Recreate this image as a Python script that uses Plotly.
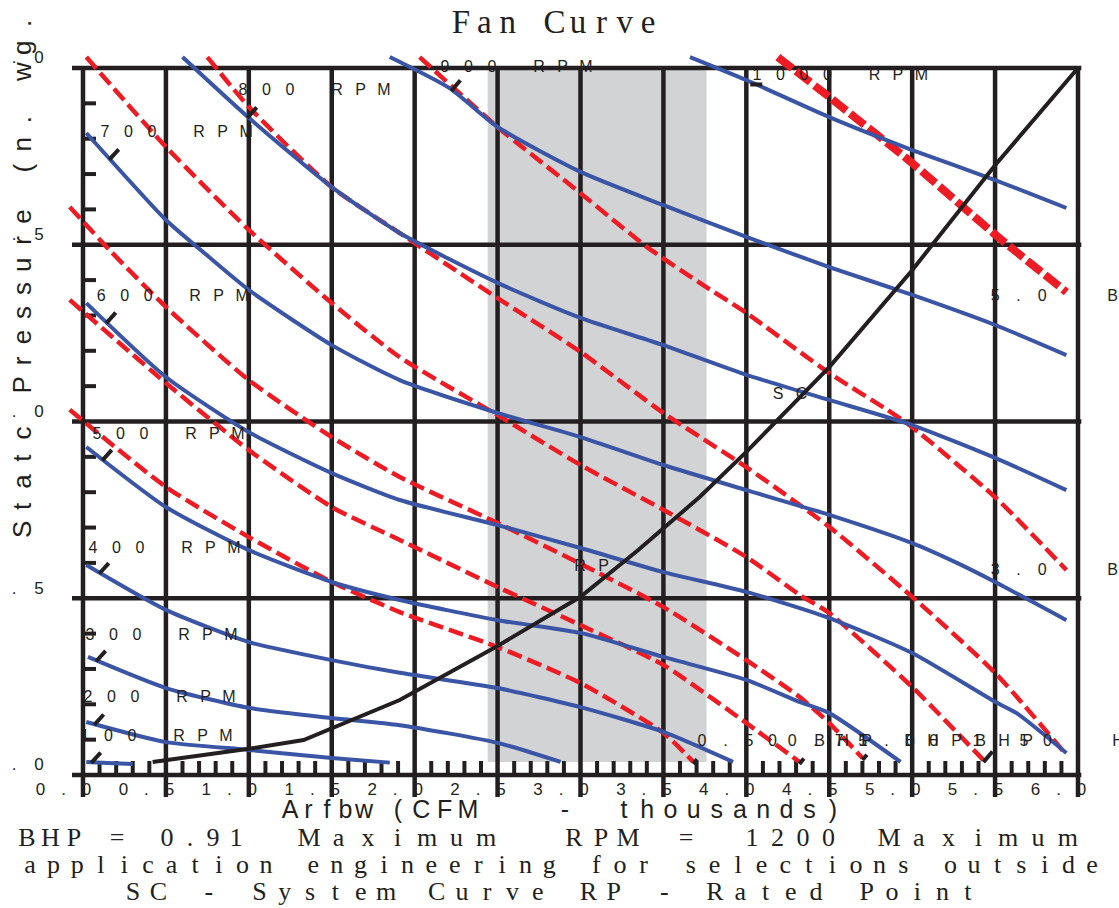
import math
import plotly.graph_objects as go

# ---------------------------------------------------------------- colours
INK = "#231f20"
BLUE = "#3a55a5"
RED = "#ed1c24"
BAND = "#d1d3d4"

# ---------------------------------------------------------------- axes / ticks
X_TICKS = [0.0, 0.5, 1.0, 1.5, 2.0, 2.5, 3.0, 3.5, 4.0, 4.5, 5.0, 5.5, 6.0]
X_TICK_LABELS = ["0.0", "0.5", "1.0", "1.5", "2.0", "2.5", "3.0",
                 "3.5", "4.0", "4.5", "5.0", "5.5", "6.0"]
Y_TICKS = [0.0, 0.5, 1.0, 1.5, 2.0]
Y_TICK_LABELS = ["0.0", "0.5", "1.0", "1.5", "2.0"]

# shaded selection band (CFM thousands, in. wg)
BAND_X = [2.44, 3.76]
BAND_Y = [0.037, 2.0]

# ---------------------------------------------------------------- fan curves (RPM)
RPM100_X = [0.02, 0.15, 0.3]
RPM100_Y = [0.037, 0.034, 0.031]
RPM200_X = [0.02, 0.5, 1.0, 1.5, 1.85]
RPM200_Y = [0.150, 0.093, 0.071, 0.048, 0.035]
RPM300_X = [0.03, 0.5, 1.0, 1.5, 1.91, 2.5, 2.88]
RPM300_Y = [0.334, 0.246, 0.190, 0.161, 0.141, 0.091, 0.037]
RPM400_X = [0.02, 0.5, 1.0, 1.5, 1.91, 2.5, 3.0, 3.5, 3.92]
RPM400_Y = [0.594, 0.467, 0.376, 0.325, 0.289, 0.246, 0.192, 0.122, 0.037]
RPM500_X = [0.02, 0.5, 1.0, 1.5, 1.91, 2.5, 3.0, 3.5, 4.0, 4.32, 4.5, 4.93]
RPM500_Y = [0.928, 0.758, 0.636, 0.546, 0.495, 0.438, 0.402, 0.334, 0.269, 0.207, 0.175, 0.037]
RPM600_X = [0.02, 0.5, 1.0, 1.5, 1.91, 2.5, 3.0, 3.5, 4.0, 4.5, 5.0, 5.5, 5.63, 5.93]
RPM600_Y = [1.335, 1.126, 0.970, 0.854, 0.778, 0.707, 0.642, 0.574, 0.518, 0.444, 0.345, 0.207, 0.175, 0.062]
RPM700_X = [0.02, 0.5, 0.71, 1.0, 1.5, 1.91, 2.5, 3.0, 3.5, 4.0, 4.5, 5.0, 5.27, 5.5, 5.93]
RPM700_Y = [1.816, 1.570, 1.485, 1.372, 1.216, 1.117, 1.024, 0.956, 0.877, 0.806, 0.736, 0.656, 0.600, 0.546, 0.438]
RPM800_X = [0.6, 1.0, 1.5, 1.91, 2.5, 3.0, 3.5, 4.0, 4.5, 5.0, 5.5, 5.93]
RPM800_Y = [2.031, 1.859, 1.663, 1.533, 1.392, 1.293, 1.216, 1.132, 1.061, 0.990, 0.897, 0.806]
RPM900_X = [1.85, 2.21, 2.5, 3.0, 3.5, 4.0, 4.5, 5.0, 5.5, 5.93]
RPM900_Y = [2.031, 1.943, 1.833, 1.706, 1.612, 1.522, 1.437, 1.358, 1.273, 1.188]
RPM1000_X = [3.66, 4.0, 4.5, 5.0, 5.5, 5.93]
RPM1000_Y = [2.031, 1.966, 1.861, 1.768, 1.683, 1.604]

RPM_NAMES = ["100", "200", "300", "400", "500", "600", "700", "800", "900", "1000"]
# where the small black marker crosses each RPM curve, and its direction (deg)
RPM_TICK_X = [0.054, 0.072, 0.084, 0.103, 0.121, 0.145, 0.163, 0.995, 2.225, 4.06]
RPM_TICK_ANGLE = [48, 48, 48, 48, 48, 48, 48, 48, 50, 0]
# first character of each RPM label
RPM_LABEL_X = [0.012, 0.030, 0.042, 0.060, 0.084, 0.109, 0.133, 0.965, 2.183, 4.064]
RPM_LABEL_Y = [0.107, 0.218, 0.393, 0.639, 0.962, 1.352, 1.816, 1.935, 2.000, 1.977]

# ---------------------------------------------------------------- brake horsepower lines
BHP050_X = [-0.08, 0.5, 1.0, 1.5, 1.91, 2.5, 3.0, 3.5, 3.68]
BHP050_Y = [1.033, 0.815, 0.673, 0.546, 0.461, 0.362, 0.260, 0.119, 0.037]
BHP075_X = [-0.08, 0.5, 1.0, 1.5, 1.91, 2.5, 3.0, 3.5, 4.0, 4.32]
BHP075_Y = [1.344, 1.109, 0.919, 0.758, 0.665, 0.532, 0.424, 0.311, 0.147, 0.037]
BHP100_X = [-0.08, 0.16, 0.5, 1.0, 1.5, 1.91, 2.5, 3.04, 3.5, 4.0, 4.32, 4.5, 4.7]
BHP100_Y = [1.607, 1.485, 1.324, 1.117, 0.956, 0.843, 0.713, 0.588, 0.475, 0.325, 0.221, 0.147, 0.048]
BHP150_X = [0.02, 0.5, 1.0, 1.5, 1.91, 2.5, 3.0, 3.5, 4.0, 4.32, 4.5, 5.0, 5.43]
BHP150_Y = [2.031, 1.777, 1.542, 1.335, 1.182, 1.018, 0.877, 0.750, 0.617, 0.510, 0.458, 0.249, 0.042]
BHP200_X = [0.75, 1.0, 1.5, 1.91, 2.5, 3.0, 3.5, 4.0, 4.5, 5.0, 5.5, 5.93]
BHP200_Y = [2.031, 1.890, 1.663, 1.533, 1.349, 1.197, 1.024, 0.871, 0.702, 0.504, 0.289, 0.057]
BHP300_X = [2.03, 2.5, 3.0, 3.4, 3.72, 4.0, 4.5, 4.85, 5.0, 5.5, 5.93]
BHP300_Y = [2.031, 1.833, 1.646, 1.494, 1.392, 1.307, 1.137, 1.033, 0.984, 0.786, 0.580]
BHP500_X = [4.19, 4.5, 5.0, 5.49, 5.93]
BHP500_Y = [2.031, 1.918, 1.731, 1.533, 1.366]

BHP_NAMES = ["0.50", "0.75", "1.00", "1.50", "2.00", "3.00", "5.00"]
BHP_LABEL_TEXT = ["0.50 BHP", "0.75 BHP", "1.00 BHP", "1.50 BHP", "5.00 BHP", "3.00 BHP"]
BHP_LABEL_X = [3.733, 4.276, 4.704, 5.391, 5.500, 5.500]
BHP_LABEL_Y = [0.093, 0.093, 0.093, 0.093, 1.352, 0.577]

# ---------------------------------------------------------------- system curve
SC_X = [0.42, 1.0, 1.33, 1.5, 1.91, 2.5, 3.0, 3.35, 3.72, 4.0, 4.19, 4.5, 5.0, 5.5, 6.0]
SC_Y = [0.037, 0.074, 0.099, 0.133, 0.212, 0.365, 0.504, 0.637, 0.787, 0.914, 1.004, 1.154, 1.428, 1.725, 2.0]
POINT_LABELS = ["SC", "RP"]
POINT_LABEL_X = [4.191, 2.997]
POINT_LABEL_Y = [1.075, 0.588]

TITLE = "Fan Curve"
X_TITLE_WORDS = ["Arfbw", "(CFM", "-", "thousands)"]
Y_TITLE = "Statc Pressure (n. wg."
FOOT_WORDS = ["BHP", "=", "0.91", "Maximum", "RPM", "=", "1200", "Maximum"]
FOOT_LINE_2 = "application engineering for selections outside"
FOOT_LINE_3 = "SC - System Curve RP - Rated Point"

# ---------------------------------------------------------------- page geometry
W, H = 1119, 908
FRAME_L, FRAME_R, FRAME_B, FRAME_T = 83, 1078, 775, 68   # pixel edges of the 6 x 2 frame
SX = (FRAME_R - FRAME_L) / 6.0
SY = (FRAME_B - FRAME_T) / 2.0
X_RANGE = [-FRAME_L / SX, (W - FRAME_L) / SX]
Y_RANGE = [-(H - FRAME_B) / SY, FRAME_B / SY]


def dx(px):
    return (px - FRAME_L) / SX


def dy(py):
    return (FRAME_B - py) / SY


SANS = "Liberation Sans, Arial, sans-serif"
NARROW = "Liberation Sans Narrow, Liberation Sans, sans-serif"
SERIF = "Liberation Serif, Times New Roman, serif"

fig = go.Figure()
shapes = []

# shaded band
shapes.append(dict(type="rect", xref="x", yref="y", x0=BAND_X[0], x1=BAND_X[1],
                   y0=BAND_Y[0], y1=BAND_Y[1], fillcolor=BAND, line_width=0, layer="below"))

GRID_W = 4.5
for v in X_TICKS:
    shapes.append(dict(type="line", xref="x", yref="y", x0=v, x1=v, y0=dy(797), y1=Y_TICKS[-1] + 0.006,
                       line=dict(color=INK, width=GRID_W), layer="below"))
for v in Y_TICKS:
    shapes.append(dict(type="line", xref="x", yref="y", x0=dx(72), x1=X_TICKS[-1] + 0.02, y0=v, y1=v,
                       line=dict(color=INK, width=GRID_W), layer="below"))
# minor ticks every 0.1
for i in range(1, 60):
    if i % 5:
        v = i / 10
        shapes.append(dict(type="line", xref="x", yref="y", x0=v, x1=v, y0=0, y1=dy(761),
                           line=dict(color=INK, width=4), layer="below"))
for i in range(1, 20):
    if i % 5:
        v = i / 10
        shapes.append(dict(type="line", xref="x", yref="y", x0=0, x1=dx(96), y0=v, y1=v,
                           line=dict(color=INK, width=4), layer="below"))

rpm_curves = [(RPM100_X, RPM100_Y), (RPM200_X, RPM200_Y), (RPM300_X, RPM300_Y),
              (RPM400_X, RPM400_Y), (RPM500_X, RPM500_Y), (RPM600_X, RPM600_Y),
              (RPM700_X, RPM700_Y), (RPM800_X, RPM800_Y), (RPM900_X, RPM900_Y),
              (RPM1000_X, RPM1000_Y)]
bhp_curves = [(BHP050_X, BHP050_Y), (BHP075_X, BHP075_Y), (BHP100_X, BHP100_Y),
              (BHP150_X, BHP150_Y), (BHP200_X, BHP200_Y), (BHP300_X, BHP300_Y),
              (BHP500_X, BHP500_Y)]

for name, (xs, ys) in zip(BHP_NAMES, bhp_curves):
    heavy = name == "5.00"
    fig.add_trace(go.Scatter(x=xs, y=ys, mode="lines", name=name + " BHP",
                             line=dict(color=RED, width=8 if heavy else 4.5,
                                       dash="18px,5px" if heavy else "15px,6px",
                                       shape="spline", smoothing=0.6),
                             hoverinfo="skip"))

for name, (xs, ys) in zip(RPM_NAMES, rpm_curves):
    fig.add_trace(go.Scatter(x=xs, y=ys, mode="lines", name=name + " RPM",
                             line=dict(color=BLUE, width=4, shape="spline", smoothing=0.6),
                             hoverinfo="skip"))

fig.add_trace(go.Scatter(x=SC_X, y=SC_Y, mode="lines", name="System Curve",
                         line=dict(color=INK, width=4), hoverinfo="skip"))


def interp(xs, ys, x):
    for i in range(len(xs) - 1):
        if xs[i] <= x <= xs[i + 1]:
            t = (x - xs[i]) / (xs[i + 1] - xs[i])
            return ys[i] + t * (ys[i + 1] - ys[i])
    return ys[-1]


# short black markers on the curves
mx, my = [], []
for (xs, ys), xt, ang in zip(rpm_curves, RPM_TICK_X, RPM_TICK_ANGLE):
    yt = interp(xs, ys, xt)
    a = math.radians(ang)
    if ang == 0:
        mx += [xt - 6 / SX, xt + 6 / SX, None]
        my += [yt, yt, None]
    else:
        mx += [xt - 1 * math.cos(a) / SX, xt + 13 * math.cos(a) / SX, None]
        my += [yt - 1 * math.sin(a) / SY, yt + 13 * math.sin(a) / SY, None]
for (xs, ys), length in zip(bhp_curves[:4], [6, 7, 7, 14]):
    xt, yt = xs[-1], ys[-1]
    a = math.radians(50)
    mx += [xt, xt + length * math.cos(a) / SX, None]
    my += [yt - 2 / SY, yt + (length * math.sin(a) - 2) / SY, None]
fig.add_trace(go.Scatter(x=mx, y=my, mode="lines", line=dict(color=INK, width=4),
                         hoverinfo="skip", name="markers"))


# ---------------------------------------------------------------- letter-spaced text
def spaced(text, x0, y0, pitch, skip=None):
    """Characters of text on a fixed pitch (pixels), first one centred at x0 (data units)."""
    xs, ys, ts = [], [], []
    for i, ch in enumerate(text):
        if ch == " ":
            continue
        x = x0 + i * pitch / SX
        if skip and skip(x):
            continue
        xs.append(x)
        ys.append(y0)
        ts.append(ch)
    return xs, ys, ts


def text_trace(parts, size, family):
    xs, ys, ts = [], [], []
    for p in parts:
        xs += p[0]
        ys += p[1]
        ts += p[2]
    return go.Scatter(x=xs, y=ys, text=ts, mode="text", cliponaxis=False, hoverinfo="skip",
                      textposition="middle center",
                      textfont=dict(family=family, size=size, color=INK))


PITCH = 23.5
label_parts = []
for name, lx, ly in zip(RPM_NAMES, RPM_LABEL_X, RPM_LABEL_Y):
    label_parts.append(spaced(name + " RPM", lx, ly, PITCH))
clip = lambda x: dx(1058) < x < dx(1105)
for txt, lx, ly in zip(BHP_LABEL_TEXT, BHP_LABEL_X, BHP_LABEL_Y):
    label_parts.append(spaced(txt, lx, ly, PITCH, skip=clip))
for txt, lx, ly in zip(POINT_LABELS, POINT_LABEL_X, POINT_LABEL_Y):
    label_parts.append(spaced(" ".join(txt), lx, ly, PITCH / 2))
fig.add_trace(text_trace(label_parts, 16, SANS))

tick_parts = []
for v, t in zip(X_TICKS, X_TICK_LABELS):
    tick_parts.append(spaced(t, v - 42.5 / SX, dy(791), 23))
for v, t in zip(Y_TICKS, Y_TICK_LABELS):
    tick_parts.append(spaced(t, dx(39) - 2 * 25 / SX, v + 9 / SY, 25))
fig.add_trace(text_trace(tick_parts, 17, SANS))

fig.add_trace(text_trace([spaced(TITLE, dx(461), dy(25), 23.4)], 33, SERIF))

# axis title: word start (px) and character pitch (px)
x_title_layout = [(290, 18.5), (398, 23.3), (565, 0), (624, 23.2)]
fig.add_trace(text_trace([spaced(w, dx(x0), dy(812), p)
                          for w, (x0, p) in zip(X_TITLE_WORDS, x_title_layout)], 25, NARROW))

foot_layout = [(27, 23.5), (117, 0), (167, 23), (309, 29.5),
               (574, 27), (686, 0), (752, 25.5), (889, 29.8)]
foot_parts = [spaced(w, dx(x0), dy(839), p) for w, (x0, p) in zip(FOOT_WORDS, foot_layout)]
foot_parts.append(spaced(FOOT_LINE_2, dx(30), dy(866), 23.6))
foot_parts.append(spaced(FOOT_LINE_3, dx(133), dy(893), 25.3))
fig.add_trace(text_trace(foot_parts, 26, SERIF))

annotations = []
for i, ch in enumerate(Y_TITLE):
    if ch == " ":
        continue
    annotations.append(dict(x=dx(22), y=dy(530 - i * 24.1), xref="x", yref="y", text=ch,
                            textangle=-90, showarrow=False, xanchor="center", yanchor="middle",
                            font=dict(family=SANS, size=26, color=INK)))

fig.update_layout(width=W, height=H, margin=dict(l=0, r=0, t=0, b=0),
                  paper_bgcolor="white", plot_bgcolor="white", showlegend=False,
                  xaxis=dict(range=X_RANGE, visible=False, fixedrange=True),
                  yaxis=dict(range=Y_RANGE, visible=False, fixedrange=True),
                  shapes=shapes, annotations=annotations)

fig.write_html("out.html")
